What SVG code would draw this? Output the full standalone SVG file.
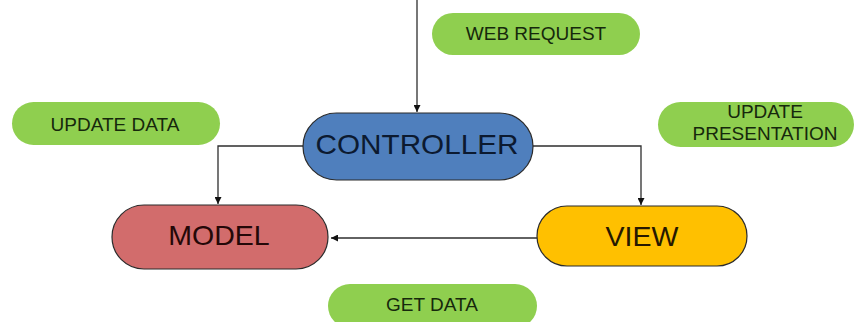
<svg xmlns="http://www.w3.org/2000/svg" width="854" height="322" viewBox="0 0 854 322">
  <style>
    .node { stroke: #2b2b2b; stroke-width: 1.2; }
    .tag { fill: #8fcf4f; }
    .big { font-family: "Liberation Sans", Arial, sans-serif; font-size: 28.5px; text-anchor: middle; }
    .small { font-family: "Liberation Sans", Arial, sans-serif; font-size: 19px; text-anchor: middle; fill: #16280c; }
    .wire { fill: none; stroke: #2e2e2e; stroke-width: 1.3; }
  </style>
  <defs>
    <marker id="arrow" viewBox="0 0 10 10" refX="10" refY="5" markerWidth="7" markerHeight="7" markerUnits="userSpaceOnUse" orient="auto">
      <path d="M0,0 L10,5 L0,10 z" fill="#111"/>
    </marker>
  </defs>
  <rect width="854" height="322" fill="#ffffff"/>

  <g id="connectors">
    <path class="wire" d="M417,0 V112" stroke="#555" marker-end="url(#arrow)"/>
    <path class="wire" d="M303,146 H218 V204" marker-end="url(#arrow)"/>
    <path class="wire" d="M533,146 H641 V205" marker-end="url(#arrow)"/>
    <path class="wire" d="M537,238 H331" marker-end="url(#arrow)"/>
  </g>

  <g id="controller">
    <rect class="node" x="303" y="113" width="230" height="67" rx="33.5" fill="#4f7fbd"/>
    <text class="big" x="417" y="154" fill="#0c1a30" textLength="203" lengthAdjust="spacingAndGlyphs">CONTROLLER</text>
  </g>

  <g id="model">
    <rect class="node" x="112" y="205" width="216" height="64" rx="32" fill="#d26c6c"/>
    <text class="big" x="219" y="245" fill="#240808">MODEL</text>
  </g>

  <g id="view">
    <rect class="node" x="537" y="206" width="210" height="60" rx="30" fill="#ffc000"/>
    <text class="big" x="642" y="246" fill="#261800">VIEW</text>
  </g>

  <g id="web-request">
    <rect class="tag" x="432" y="13" width="208" height="42" rx="21"/>
    <text class="small" x="536" y="40">WEB REQUEST</text>
  </g>

  <g id="update-data">
    <rect class="tag" x="12" y="102" width="208" height="43" rx="21.5"/>
    <text class="small" x="115" y="131">UPDATE DATA</text>
  </g>

  <g id="update-presentation">
    <rect class="tag" x="658" y="102" width="196" height="45" rx="22.5"/>
    <text class="small" x="765" y="118">UPDATE</text>
    <text class="small" x="765" y="140">PRESENTATION</text>
  </g>

  <g id="get-data">
    <rect class="tag" x="328" y="284" width="209" height="44" rx="22"/>
    <text class="small" x="432" y="311">GET DATA</text>
  </g>
</svg>
